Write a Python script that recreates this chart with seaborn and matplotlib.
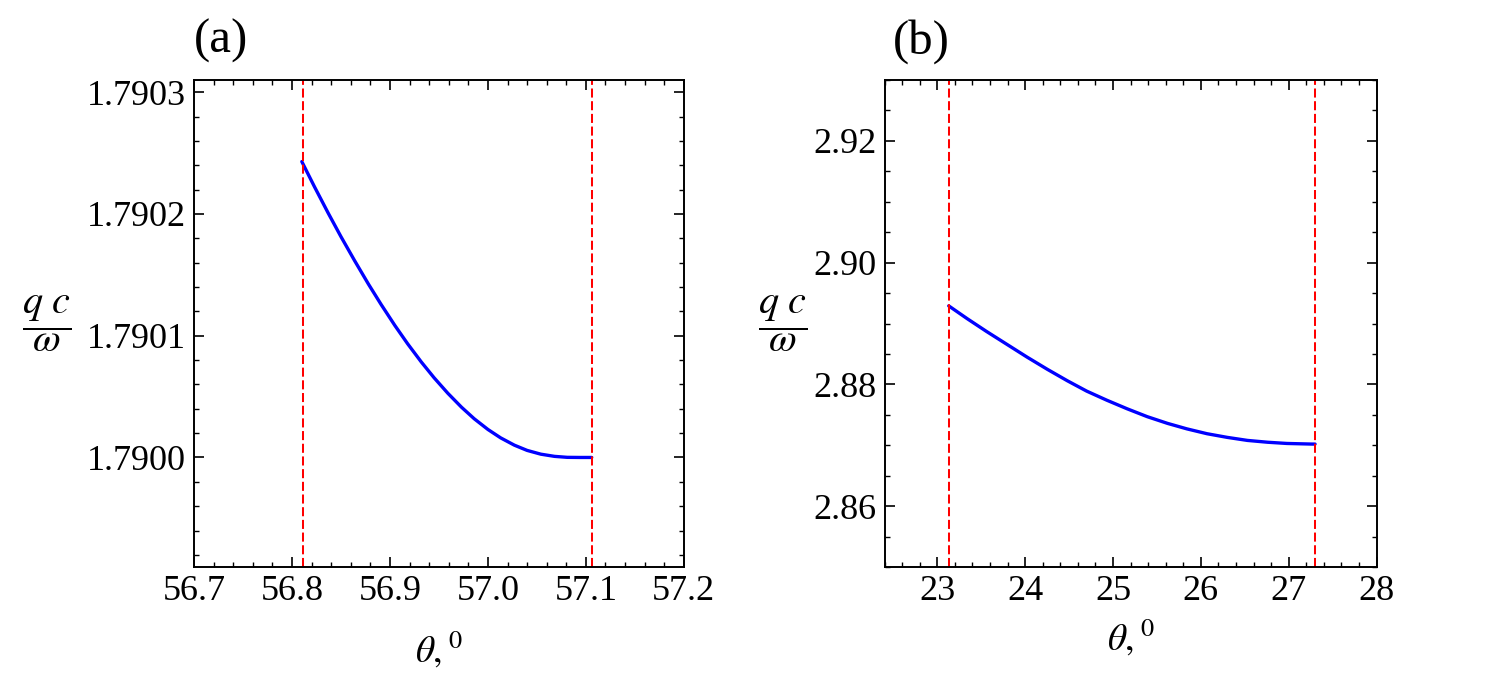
import matplotlib
matplotlib.use('Agg')
import matplotlib.pyplot as plt
import seaborn as sns
import pandas as pd
from matplotlib.ticker import MultipleLocator, FormatStrFormatter

# Curve (a): values
theta_a = [56.810, 56.823, 56.837, 56.850, 56.864, 56.878, 56.891, 56.905,
           56.918, 56.932, 56.945, 56.959, 56.973, 56.986, 57.000, 57.013,
           57.027, 57.040, 57.054, 57.068, 57.081, 57.094, 57.106]
qcw_a = [1.7902430, 1.7902222, 1.7902006, 1.7901813, 1.7901615, 1.7901424,
         1.7901256, 1.7901084, 1.7900934, 1.7900784, 1.7900655, 1.7900528,
         1.7900413, 1.7900318, 1.7900230, 1.7900161, 1.7900101, 1.7900058,
         1.7900027, 1.7900009, 1.7900001, 1.7900000, 1.7900000]
bounds_a = [56.811, 57.106]

# Curve (b)
theta_b = [23.13, 23.34, 23.56, 23.79, 24.02, 24.25, 24.48, 24.70, 24.93,
           25.16, 25.39, 25.62, 25.84, 26.07, 26.30, 26.53, 26.76, 26.98,
           27.26, 27.30]
qcw_b = [2.8929, 2.8908, 2.8887, 2.8866, 2.8845, 2.8825, 2.8806, 2.8789,
         2.8774, 2.8760, 2.8747, 2.8736, 2.8727, 2.8719, 2.8713, 2.8708,
         2.8705, 2.8703, 2.8702, 2.8702]
bounds_b = [23.13, 27.30]

sns.set_theme(style='ticks')
plt.rcParams['font.family'] = ['Liberation Serif', 'DejaVu Serif']
plt.rcParams['mathtext.fontset'] = 'stix'
plt.rcParams['text.color'] = 'black'
plt.rcParams['axes.labelcolor'] = 'black'

df_a = pd.DataFrame({'theta': theta_a, 'qcw': qcw_a})
df_b = pd.DataFrame({'theta': theta_b, 'qcw': qcw_b})

fig = plt.figure(figsize=(14.93, 6.84), dpi=100)
ax_a = fig.add_axes([0.130, 0.171, 0.328, 0.712])
ax_b = fig.add_axes([0.5925, 0.171, 0.3295, 0.712])

# ax, data, bounds, xlim, ylim, x major/minor, y major/minor, formats, tag, tag x, ylabel x, xlabel pad
panels = [
    (ax_a, df_a, bounds_a, (56.7, 57.2), (1.78991, 1.79031), 0.1, 0.02, 0.0001, 0.00002,
     '%.1f', '%.4f', '(a)', 0.0, -0.300, 15),
    (ax_b, df_b, bounds_b, (22.4, 28.0), (2.85, 2.93), 1, 0.2, 0.02, 0.005,
     '%d', '%.2f', '(b)', 0.016, -0.206, 6),
]

for ax, df, bnd, xl, yl, xmaj, xmin, ymaj, ymin, xfmt, yfmt, tag, tagx, ylx, xpad in panels:
    sns.lineplot(x='theta', y='qcw', data=df, ax=ax, color='#0000ff', linewidth=2.4)
    for b in bnd:
        ax.axvline(b, color='#ff0000', linewidth=1.45, dashes=(4.5, 1.8))
    ax.set_xlim(*xl)
    ax.set_ylim(*yl)
    ax.xaxis.set_major_locator(MultipleLocator(xmaj))
    ax.xaxis.set_minor_locator(MultipleLocator(xmin))
    ax.yaxis.set_major_locator(MultipleLocator(ymaj))
    ax.yaxis.set_minor_locator(MultipleLocator(ymin))
    ax.xaxis.set_major_formatter(FormatStrFormatter(xfmt))
    ax.yaxis.set_major_formatter(FormatStrFormatter(yfmt))
    ax.tick_params(which='both', direction='in', top=True, right=True,
                   labelsize=26, color='black', labelcolor='black')
    ax.tick_params(which='major', length=7, width=1.2, pad=6)
    ax.tick_params(which='minor', length=3.5, width=1.0)
    for s in ax.spines.values():
        s.set_linewidth(1.4)
        s.set_color('black')
    ax.set_xlabel(r'$\theta,^{0}$', fontsize=27, labelpad=xpad)
    ax.set_ylabel(r'$\dfrac{q\ c}{\omega}$', fontsize=29, rotation=0, va='center', ha='center')
    ax.yaxis.set_label_coords(ylx, 0.5)
    ax.text(tagx, 1.08, tag, transform=ax.transAxes, fontsize=35, ha='left', va='center')

fig.savefig('out.png', dpi=100)
